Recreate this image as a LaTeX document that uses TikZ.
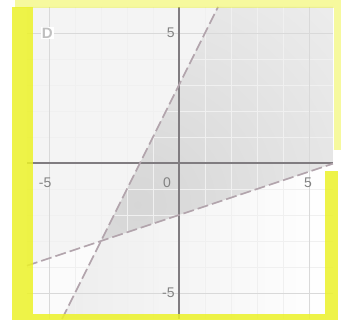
\documentclass[tikz,border=0pt]{standalone}
\usepackage{fontspec}
\setmainfont{Liberation Sans}
\definecolor{hl}{RGB}{236,242,40}
\definecolor{bnd}{RGB}{178,164,172}
\definecolor{axc}{RGB}{128,124,128}
\definecolor{lbl}{RGB}{130,130,130}
\tikzset{
  gridln/.style={draw=gray!12, line width=0.5pt},
  majorgrid/.style={draw=gray!30, line width=0.7pt},
  axisln/.style={draw=axc, line width=1.5pt},
  bndline/.style={draw=bnd, line width=1.6pt, dash pattern=on 11pt off 4pt},
  ticklbl/.style={text=lbl, font=\fontsize{14}{14}\selectfont, inner sep=1pt},
  hlband/.style={fill=hl, opacity=0.85},
  hlpale/.style={fill=hl, opacity=0.45},
}
\begin{document}
\begin{tikzpicture}[x=26pt,y=26pt]
\useasboundingbox (-6.885,-6.038) rectangle (6.231,6.269);
\fill[white] (-6.885,-6.038) rectangle (6.231,6.269);
% plot area background
\fill[gray!3] (-5.85,-6) rectangle (5.92,6);
% region left of steep line, above shallow line
\fill[gray!9] (-5.85,-3.95) -- (-5.85,6) -- (1.5,6) -- (-3,-3) -- cycle;
% region right of steep line, below shallow line
\shade[left color=gray!14, right color=white] (-3,-3) -- (-4.5,-6) -- (5.92,-6) -- (5.92,-0.027) -- cycle;
% overlap region
\begin{scope}
\clip (-3,-3) -- (1.5,6) -- (5.92,6) -- (5.92,-0.027) -- cycle;
\shade[inner color=gray!32, outer color=gray!14] (-1.6,-1.6) circle (11);
\end{scope}
% grid
\foreach \i in {-5,...,5} {
  \draw[gridln] (\i,-6) -- (\i,6);
  \draw[gridln] (-5.85,\i) -- (5.92,\i);
}
\foreach \i in {-5,5} {
  \draw[majorgrid] (\i,-6) -- (\i,6);
  \draw[majorgrid] (-5.85,\i) -- (5.92,\i);
}
% axes
\draw[axisln] (-5.85,0) -- (5.92,0);
\draw[axisln] (0,-6) -- (0,6);
% boundary lines
\coordinate (s1) at (-4.5,-6);
\coordinate (s2) at (1.5,6);
\coordinate (t1) at (-5.85,-3.95);
\coordinate (t2) at (5.92,-0.027);
\draw[bndline] (s1) -- (s2);
\draw[bndline] (t1) -- (t2);
% tick labels
\node[ticklbl, anchor=east] (ly5) at (-0.12,5) {5};
\node[ticklbl, anchor=east] (lym5) at (-0.12,-5) {-5};
\node[ticklbl] (l0) at (-0.46,-0.75) {0};
\node[ticklbl] (lxm5) at (-5.15,-0.75) {-5};
\node[ticklbl] (lx5) at (4.96,-0.75) {5};
% option letter
\node[fill=white, text=gray!50, font=\bfseries\fontsize{15}{15}\selectfont, inner sep=1pt] (optD) at (-5.07,5) {D};
% highlighter
\fill[hlband] (-6.42,-6.038) rectangle (-5.62,6.0);
\fill[hlpale] (-6.3,5.96) rectangle (6.231,6.269);
\fill[hlpale] (5.95,0.5) rectangle (6.231,5.96);
\fill[hlband] (5.62,-6.038) rectangle (6.12,-0.3);
\fill[hlband] (-5.62,-6.038) rectangle (5.62,-5.82);
\end{tikzpicture}
\end{document}
